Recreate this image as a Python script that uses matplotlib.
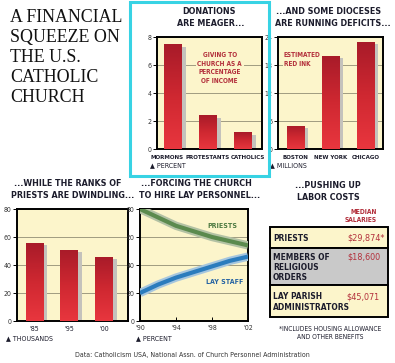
import numpy as np
import matplotlib
matplotlib.use("Agg")
import matplotlib.pyplot as plt
from matplotlib.patches import Rectangle
from matplotlib.colors import LinearSegmentedColormap

donor_groups = ["MORMONS", "PROTESTANTS", "CATHOLICS"]
giving_pct = [7.5, 2.4, 1.2]
dioceses = ["BOSTON", "NEW YORK", "CHICAGO"]
deficit_musd = [5, 20, 23]
priest_years = ["'85", "'95", "'00"]
priests_k = [56, 51, 46]
staff_years = [1990, 1992, 1994, 1996, 1998, 2000, 2002]
priests_pct = [80, 74, 68, 64, 60, 57, 54]
lay_pct = [20, 26, 31, 35, 39, 43, 46]
year_ticks = [1990, 1994, 1998, 2002]
year_labels = ["'90", "'94", "'98", "'02"]
roles = [["PRIESTS"], ["MEMBERS OF", "RELIGIOUS", "ORDERS"], ["LAY PARISH", "ADMINISTRATORS"]]
salaries = ["$29,874*", "$18,600", "$45,071"]

W, H = 395, 363
PALE = "#fcf5cb"
GRIDC = "#a09c80"
RED = "#c92630"
SHADOW = "#c4c2bc"
TXTRED = "#b3303c"
DARK = "#1c1c2c"
SUB = 6.4
COND = dict(family="DejaVu Sans", fontstretch="condensed", fontweight="bold")
CONDN = dict(family="DejaVu Sans", fontstretch="condensed", fontweight="normal")

red_cm = LinearSegmentedColormap.from_list("r", ["#e8363e", "#cf2831", "#a81b29"])
grad = np.linspace(0, 1, 64).reshape(-1, 1)


def box(l, t, r, b):
    # pixel box (top-left origin) -> figure fraction
    return [l / W, 1 - b / H, (r - l) / W, (b - t) / H]


def ftext(x, y, s, **kw):
    fig.text(x / W, 1 - y / H, s, **kw)


def subtitle(x1, x2, y, l1, l2):
    ftext(x1, y, l1, ha="center", va="center", fontsize=SUB, color=DARK, **COND)
    ftext(x2, y + 13, l2, ha="center", va="center", fontsize=SUB, color=DARK, **COND)


def style(ax):
    ax.set_facecolor(PALE)
    for sp in ax.spines.values():
        sp.set_linewidth(1.4)
        sp.set_color("black")
    ax.yaxis.grid(True, color=GRIDC, lw=0.7)
    ax.set_axisbelow(True)
    ax.tick_params(axis="y", length=3, width=0.7, pad=1, labelsize=5, labelcolor="#333333")
    for lab in ax.get_yticklabels():
        lab.set(**CONDN)


def bar_panel(bx, cats, vals, ymax, step, xlim=(-0.5, 2.5), shifts=(0, 0, 0), catfont=COND, catsize=4.4):
    ax = fig.add_axes(box(*bx))
    x = np.arange(len(vals))
    v = np.array(vals, dtype=float)
    ax.bar(x + 0.12, v - ymax * 0.025, width=0.5, color=SHADOW, zorder=2)
    bars = ax.bar(x, v, width=0.5, color=RED, zorder=3)
    for b in bars:
        im = ax.imshow(grad, extent=[b.get_x(), b.get_x() + b.get_width(), 0, b.get_height()],
                       cmap=red_cm, aspect="auto", origin="lower", zorder=3.5)
        im.set_clip_path(b)
    ax.set_xlim(*xlim)
    ax.set_ylim(0, ymax)
    ax.set_yticks(np.arange(0, ymax + step, step))
    ax.set_xticks([])
    for xi, cat, dx in zip(x, cats, shifts):
        ax.annotate(cat, (xi, 0), xycoords=("data", "axes fraction"), xytext=(dx * 0.72, -6),
                    textcoords="offset points", ha="center", va="center", fontsize=catsize,
                    color=DARK, annotation_clip=False, **catfont)
    style(ax)
    return ax


fig = plt.figure(figsize=(W / 100, H / 100), dpi=100)

# title
for i, line in enumerate(["A FINANCIAL", "SQUEEZE ON", "THE U.S.", "CATHOLIC", "CHURCH"]):
    ftext(10, 22 + i * 20, line, family="Liberation Serif", fontsize=12.9, color="#111111", va="baseline")

# donations
ax1 = bar_panel((157, 37, 262, 149), donor_groups, giving_pct, 8, 2, xlim=(-0.45, 2.55),
                shifts=(-6, 0, 5))
ax1.text(1.34, 5.8, "GIVING TO\nCHURCH AS A\nPERCENTAGE\nOF INCOME", ha="center", va="center",
         fontsize=4.7, color=TXTRED, linespacing=1.5, zorder=5,
         bbox=dict(facecolor=PALE, edgecolor="none", pad=1.2), **COND)
subtitle(209, 211, 11, "DONATIONS", "ARE MEAGER...")
ftext(150, 165, "\u25b2 PERCENT", ha="left", va="center", fontsize=5, color=DARK, **CONDN)

# deficits
ax2 = bar_panel((278, 37, 383, 149), dioceses, deficit_musd, 24, 6)
ax2.text(-0.33, 19.2, "ESTIMATED\nRED INK", ha="left", va="center", fontsize=4.7, color=TXTRED,
         linespacing=1.5, zorder=5, bbox=dict(facecolor=PALE, edgecolor="none", pad=1.0), **COND)
subtitle(329, 333, 11, "...AND SOME DIOCESES", "ARE RUNNING DEFICITS...")
ftext(270, 165, "\u25b2 MILLIONS", ha="left", va="center", fontsize=5, color=DARK, **CONDN)

# priests
ax3 = bar_panel((17, 209, 128, 321), priest_years, priests_k, 80, 20, xlim=(-0.5, 2.7),
                catfont=CONDN, catsize=5)
subtitle(68, 73, 183, "...WHILE THE RANKS OF", "PRIESTS ARE DWINDLING...")
ftext(6, 338, "\u25b2 THOUSANDS", ha="left", va="center", fontsize=5, color=DARK, **CONDN)

# staffing lines
ax4 = fig.add_axes(box(140, 209, 248, 321))
ax4.plot(staff_years, priests_pct, color="#b3c2a4", lw=6, solid_capstyle="butt", zorder=3)
ax4.plot(staff_years, priests_pct, color="#5b8a4e", lw=3, solid_capstyle="butt", zorder=4)
ax4.plot(staff_years, lay_pct, color="#a6c6de", lw=6, solid_capstyle="butt", zorder=3)
ax4.plot(staff_years, lay_pct, color="#2b7cbd", lw=3, solid_capstyle="butt", zorder=4)
ax4.set_xlim(1990, 2002)
ax4.set_ylim(0, 80)
ax4.set_yticks([0, 20, 40, 60, 80])
ax4.set_xticks(year_ticks)
ax4.set_xticklabels(year_labels, fontsize=5, color="#333333", **CONDN)
ax4.tick_params(axis="x", direction="in", length=3, width=0.7, pad=3)
style(ax4)
ax4.text(1999.2, 68, "PRIESTS", ha="center", va="center", fontsize=5, color="#4d7a42", **COND)
ax4.text(1999.4, 28, "LAY STAFF", ha="center", va="center", fontsize=5, color="#2563a3", **COND)
subtitle(196, 200, 183, "...FORCING THE CHURCH", "TO HIRE LAY PERSONNEL...")
ftext(136, 338, "\u25b2 PERCENT", ha="left", va="center", fontsize=5, color=DARK, **CONDN)

# salary table
ov = fig.add_axes([0, 0, 1, 1])
ov.set_xlim(0, W)
ov.set_ylim(H, 0)
ov.axis("off")
ov.set_zorder(5)
row_edges = [227, 248, 285, 317]
row_fill = [PALE, "#c9c9c9", PALE]
sal_right = [385, 381, 380]
pitch = 10.5
for i, (role, sal) in enumerate(zip(roles, salaries)):
    t, b = row_edges[i], row_edges[i + 1]
    first = (t + b) / 2 + 1 - (len(role) - 1) * pitch / 2
    ov.add_patch(Rectangle((270, t), 118, b - t, facecolor=row_fill[i], edgecolor="black", lw=1.4))
    for k, line in enumerate(role):
        ov.text(273, first + k * pitch, line, ha="left", va="center", fontsize=6.0, color=DARK, **COND)
    ov.text(sal_right[i], first, sal, ha="right", va="center", fontsize=6.5, color=TXTRED, **CONDN)
ov.text(377, 216, "MEDIAN\nSALARIES", ha="right", va="center", fontsize=4.8, color=TXTRED,
        linespacing=1.2, **COND)
ov.text(330, 333, "*INCLUDES HOUSING ALLOWANCE\nAND OTHER BENEFITS", ha="center", va="center",
        fontsize=4.8, color=DARK, linespacing=1.3, **CONDN)
subtitle(328, 328, 185, "...PUSHING UP", "LABOR COSTS")

# highlight frame around the first panel
ov.add_patch(Rectangle((129.5, 1.5), 139, 174, facecolor="none", edgecolor="#38d3e4", lw=2.2))

ftext(192, 355, "Data: Catholicism USA, National Assn. of Church Personnel Administration",
      ha="center", va="center", fontsize=5, color="#333333", **CONDN)

fig.savefig("out.png", dpi=100)
